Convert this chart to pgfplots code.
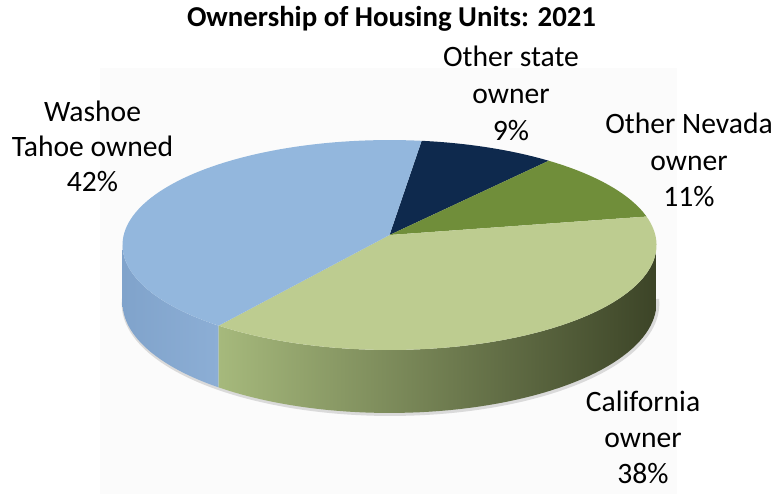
\documentclass[border=0pt]{standalone}
\usepackage{pgfplots}
\pgfplotsset{compat=1.18}
\usepackage{fontspec}
\setmainfont{Carlito}
\definecolor{bggray}{HTML}{FBFBFB}
\definecolor{washtop}{HTML}{93B7DD}
\definecolor{washsideL}{HTML}{80A3CB}
\definecolor{washsideR}{HTML}{8CAED5}
\definecolor{ostop}{HTML}{0E294D}
\definecolor{nevtop}{HTML}{708E3A}
\definecolor{caltop}{HTML}{BDCC90}
\definecolor{calsideL}{HTML}{A6B97C}
\definecolor{calsideM}{HTML}{6C7B49}
\definecolor{calsideR}{HTML}{3C4427}
\begin{document}
\begin{tikzpicture}
% shares (percent), clockwise from the start angle
\pgfmathsetmacro\pOS{9}
\pgfmathsetmacro\pNV{11}
\pgfmathsetmacro\pCA{38}
\pgfmathsetmacro\pWA{42}
\pgfmathsetmacro\aA{82.4}
\pgfmathsetmacro\aB{\aA-3.6*\pOS}
\pgfmathsetmacro\aC{\aB-3.6*\pNV}
\pgfmathsetmacro\aD{\aC-3.6*\pCA}
\pgfmathsetmacro\aE{\aD-3.6*\pWA}
\begin{axis}[
  width=387pt, height=247pt, scale only axis,
  xmin=0, xmax=774, ymin=0, ymax=494, y dir=reverse,
  hide axis, clip=false,
  declare function={
    px(\p,\r)=389.5+265.8*\r*cos(\p)/(1+0.0952*\r*sin(\p));
    py(\p,\r)=235-104*\r*sin(\p)/(1+0.0952*\r*sin(\p));
    ph(\p)=57/(1+0.0952*sin(\p));
    sang(\t,\a,\b)=\a+(\b-\a)*(min(\t,1)-max(\t-2,0));
    soff(\t)=min(max(\t-1,0),1);
    tang(\t,\a,\b)=\a+(\b-\a)*min(\t,1);
    trad(\t)=1-max(\t-1,0);
  },
]
\fill[white] (axis cs:0,0) rectangle (axis cs:774,494);
\fill[bggray] (axis cs:100,68) rectangle (axis cs:677,494);
% soft shadow under the pie
\addplot[draw=black!30, line width=1.8pt, opacity=0.45, domain=-178:-3, samples=100]
  ({px(x,1)+1}, {py(x,1)+ph(x)+1.2});
% side walls
\addplot[draw=none, left color=washsideL, right color=washsideR, domain=0:3, samples=181]
  ({px(sang(x,-174.54,\aD),1)}, {py(sang(x,-174.54,\aD),1)+ph(sang(x,-174.54,\aD))*soff(x)}) -- cycle;
\addplot[draw=none, left color=calsideL, middle color=calsideM, right color=calsideR, domain=0:3, samples=181]
  ({px(sang(x,\aD,-5.46),1)}, {py(sang(x,\aD,-5.46),1)+ph(sang(x,\aD,-5.46))*soff(x)}) -- cycle;
% top face
\addplot[draw=none, fill=ostop, domain=0:2, samples=121]
  ({px(tang(x,\aA,\aB),trad(x))}, {py(tang(x,\aA,\aB),trad(x))}) -- cycle;
\addplot[draw=none, fill=nevtop, domain=0:2, samples=121]
  ({px(tang(x,\aB,\aC),trad(x))}, {py(tang(x,\aB,\aC),trad(x))}) -- cycle;
\addplot[draw=none, fill=caltop, domain=0:2, samples=161]
  ({px(tang(x,\aC,\aD),trad(x))}, {py(tang(x,\aC,\aD),trad(x))}) -- cycle;
\addplot[draw=none, fill=washtop, domain=0:2, samples=161]
  ({px(tang(x,\aD,\aE),trad(x))}, {py(tang(x,\aD,\aE),trad(x))}) -- cycle;
% labels
\begin{scope}[every node/.style={anchor=base, inner sep=0pt, font=\fontsize{14.8}{17}\selectfont}]
\node at (axis cs:92.5,121.7) {Washoe};
\node at (axis cs:92.5,156.7) {Tahoe owned};
\node at (axis cs:92.5,191.7) {42\%};
\node at (axis cs:511,66.7) {Other state};
\node at (axis cs:511,103.3) {owner};
\node at (axis cs:511,140) {9\%};
\node at (axis cs:689,133.3) {Other Nevada};
\node at (axis cs:689,170) {owner};
\node at (axis cs:689,206.7) {11\%};
\node at (axis cs:643,411) {California};
\node at (axis cs:643,447) {owner};
\node at (axis cs:643,483) {38\%};
\end{scope}
\node[anchor=base, inner sep=0pt, font=\bfseries\fontsize{14.4}{16}\selectfont] at (axis cs:391.5,26.7) {Ownership of Housing Units: 2021};
\end{axis}
\end{tikzpicture}
\end{document}
